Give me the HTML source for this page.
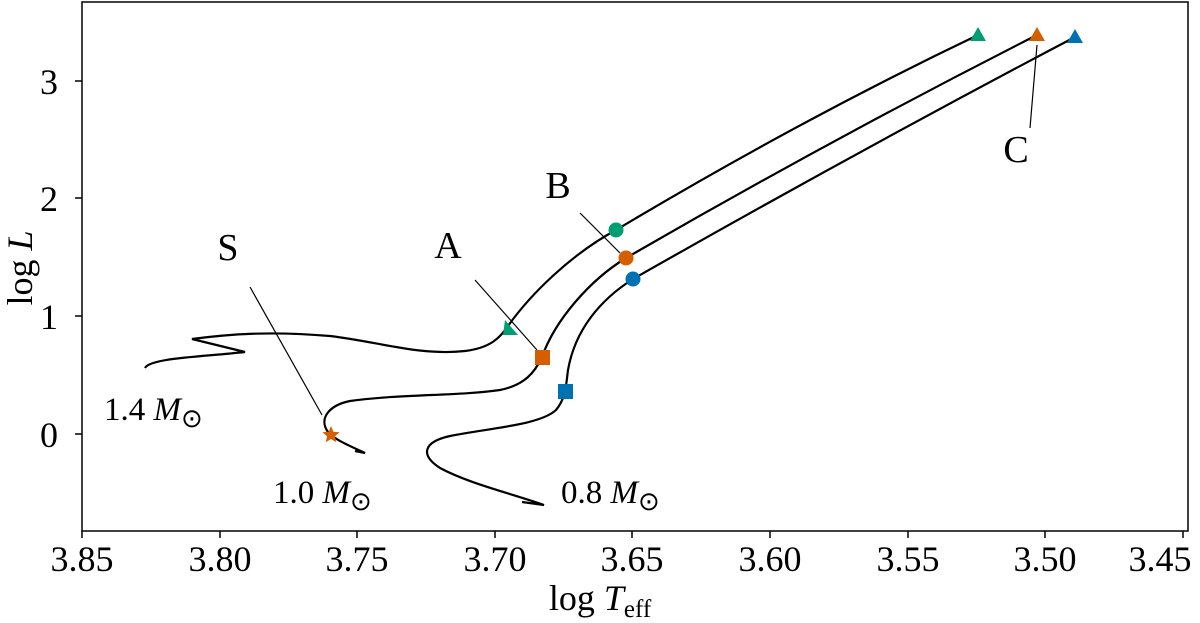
<!DOCTYPE html>
<html><head><meta charset="utf-8"><style>
html,body{margin:0;padding:0;background:#fff;}
svg{display:block;font-family:"Liberation Serif",serif;}
</style></head><body>
<svg width="1200" height="623" viewBox="0 0 1200 623" xmlns="http://www.w3.org/2000/svg">
<rect x="82" y="2" width="1106" height="529" fill="none" stroke="#000" stroke-width="1.5"/>
<g stroke="#000" stroke-width="1.5">
<line x1="82" y1="531" x2="82" y2="538"/><line x1="220" y1="531" x2="220" y2="538"/><line x1="357" y1="531" x2="357" y2="538"/><line x1="495" y1="531" x2="495" y2="538"/><line x1="632" y1="531" x2="632" y2="538"/><line x1="770" y1="531" x2="770" y2="538"/><line x1="908" y1="531" x2="908" y2="538"/><line x1="1045" y1="531" x2="1045" y2="538"/><line x1="1183" y1="531" x2="1183" y2="538"/>
<line x1="75" y1="434" x2="82" y2="434"/><line x1="75" y1="316" x2="82" y2="316"/><line x1="75" y1="198" x2="82" y2="198"/><line x1="75" y1="81" x2="82" y2="81"/>
</g>
<g font-size="36" text-anchor="middle">
<text x="82" y="571">3.85</text><text x="220" y="571">3.80</text><text x="357" y="571">3.75</text><text x="495" y="571">3.70</text><text x="632" y="571">3.65</text><text x="770" y="571">3.60</text><text x="908" y="571">3.55</text><text x="1045" y="571">3.50</text><text x="1160" y="571">3.45</text>
</g>
<g font-size="36" text-anchor="end">
<text x="58" y="447">0</text><text x="58" y="329">1</text><text x="58" y="211">2</text><text x="58" y="94">3</text>
</g>
<text x="600" y="610" font-size="36" text-anchor="middle">log <tspan font-style="italic">T</tspan><tspan font-size="25" dy="7">eff</tspan></text>
<text transform="translate(32,268) rotate(-90)" font-size="36" text-anchor="middle">log <tspan font-style="italic">L</tspan></text>
<g fill="none" stroke="#000" stroke-width="2.2">
<path d="M145,368 C150,358 200,357 245,352 L192,339 C230,334 270,331 330,336 C380,342 420,356 465,351 C490,348 500,338 508,326 C530,295 570,255 616,230 Q800,120 978,35"/>
<path d="M355,451 L365,453 C350,446 335,440 328,432 C318,418 330,405 350,401 C400,394 460,396 500,390 C525,385 535,372 542,357 C555,320 590,280 626,258 Q830,140 1037,35"/>
<path d="M522,502 L544,505 C510,493 470,484 440,468 C420,455 423,442 450,436 C490,428 540,425 556,410 C566,398 566,385 568,370 C575,330 600,300 633,279 Q860,150 1075,37"/>
</g>
<g stroke="#000" stroke-width="1.2">
<line x1="250" y1="287" x2="322" y2="415"/><line x1="475" y1="280" x2="537" y2="350"/><line x1="580" y1="213" x2="620" y2="253"/><line x1="1030" y1="128" x2="1037" y2="45"/>
</g>
<g font-size="38" text-anchor="middle">
<text x="228" y="260">S</text><text x="448" y="258">A</text><text x="558" y="198">B</text><text x="1016" y="162">C</text>
</g>
<g font-size="33">
<text x="104" y="420">1.4 <tspan font-style="italic">M</tspan><tspan font-size="26" dy="7">⊙</tspan></text>
<text x="273" y="503">1.0 <tspan font-style="italic">M</tspan><tspan font-size="26" dy="7">⊙</tspan></text>
<text x="561" y="503">0.8 <tspan font-style="italic">M</tspan><tspan font-size="26" dy="7">⊙</tspan></text>
</g>
<polygon points="503,335 518,335 505,320" fill="#009E73"/>
<polygon points="978,27 986,41 970,41" fill="#009E73"/>
<polygon points="1037,27 1045,41 1029,41" fill="#D55E00"/>
<polygon points="1075,29 1083,43 1067,43" fill="#0072B2"/>
<circle cx="616" cy="230" r="7.5" fill="#009E73"/>
<circle cx="626" cy="258" r="7.5" fill="#D55E00"/>
<circle cx="633" cy="279" r="7.5" fill="#0072B2"/>
<rect x="535" y="350" width="15" height="15" fill="#D55E00"/>
<rect x="558" y="384" width="15" height="15" fill="#0072B2"/>
<polygon points="331,426 333.4,431.7 339.6,432.2 334.9,436.2 336.3,442.3 331,439 325.7,442.3 327.1,436.2 322.4,432.2 328.6,431.7" fill="#D55E00"/>
</svg>
</body></html>
